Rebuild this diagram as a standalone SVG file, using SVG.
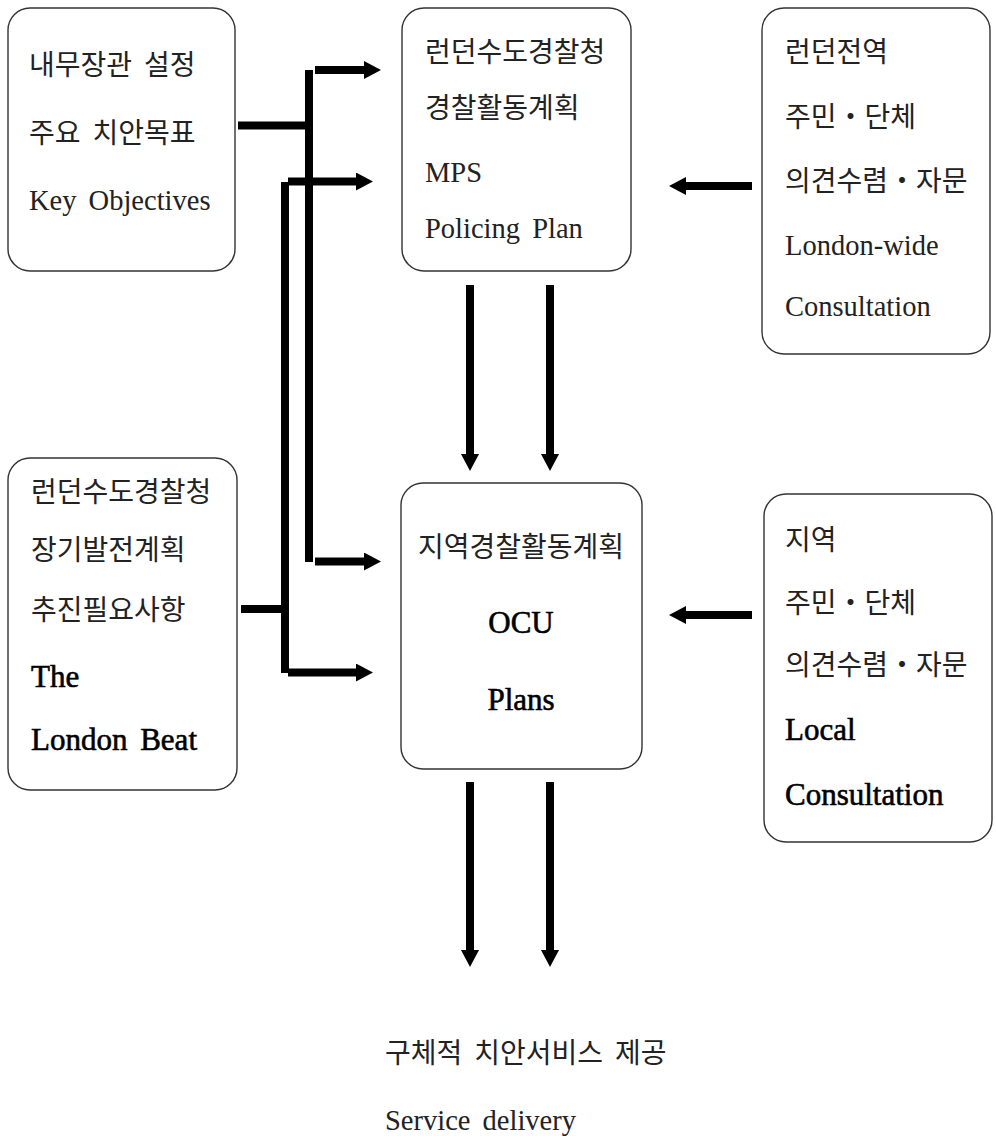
<svg xmlns="http://www.w3.org/2000/svg" width="996" height="1136" viewBox="0 0 996 1136">
<style>
.box{fill:#fff;stroke:#333;stroke-width:1.4}
.t{font-family:'Liberation Serif','Noto Sans CJK KR',serif;fill:#222;word-spacing:5px}
.k{font-size:28px}
.e{font-size:28.5px}
.b{font-size:31px;fill:#000;stroke:#000;stroke-width:0.6}
.c{text-anchor:middle}
.ln{fill:none;stroke:#000;stroke-width:8}
</style>
<defs>
<marker id="ah" markerUnits="userSpaceOnUse" markerWidth="18" markerHeight="18" viewBox="0 0 18 18" refX="0" refY="9" orient="auto">
<path d="M0,0 L17,9 L0,18 z" fill="#000"/>
</marker>
</defs>
<rect width="996" height="1136" fill="#fff"/>
<g id="connectors">
<path class="ln" d="M238,125.5 H311"/>
<path class="ln" d="M309,70 V562"/>
<path class="ln" d="M315,70 H364" marker-end="url(#ah)"/>
<path class="ln" d="M285,182 V673"/>
<path class="ln" d="M288,181.5 H356" marker-end="url(#ah)"/>
<path class="ln" d="M315,561.5 H364" marker-end="url(#ah)"/>
<path class="ln" d="M288,672.5 H356" marker-end="url(#ah)"/>
<path class="ln" d="M241,609 H283"/>
<path class="ln" d="M470,285 V454" marker-end="url(#ah)"/>
<path class="ln" d="M550,285 V454" marker-end="url(#ah)"/>
<path class="ln" d="M752,186 H686" marker-end="url(#ah)"/>
<path class="ln" d="M752,615 H686" marker-end="url(#ah)"/>
<path class="ln" d="M470,782 V950" marker-end="url(#ah)"/>
<path class="ln" d="M550,782 V950" marker-end="url(#ah)"/>
</g>
<g id="n1">
<rect class="box" x="8" y="8" width="227" height="263" rx="22"/>
<text class="t k" x="29" y="75">내무장관 설정</text>
<text class="t k" x="29" y="143">주요 치안목표</text>
<text class="t e" x="29" y="209.5">Key Objectives</text>
</g>
<g id="n2">
<rect class="box" x="402" y="8" width="229" height="263" rx="22"/>
<text class="t k" x="425" y="62">런던수도경찰청</text>
<text class="t k" x="425" y="118">경찰활동계획</text>
<text class="t e" x="425" y="181.5">MPS</text>
<text class="t e" x="425" y="237.5">Policing Plan</text>
</g>
<g id="n3">
<rect class="box" x="762" y="8" width="228" height="346" rx="22"/>
<text class="t k" x="785" y="62">런던전역</text>
<text class="t k" x="785" y="127">주민・단체</text>
<text class="t k" x="785" y="191">의견수렴・자문</text>
<text class="t e" x="785" y="254.5">London-wide</text>
<text class="t e" x="785" y="315.5">Consultation</text>
</g>
<g id="n4">
<rect class="box" x="8" y="458" width="229" height="332" rx="22"/>
<text class="t k" x="31" y="502">런던수도경찰청</text>
<text class="t k" x="31" y="560">장기발전계획</text>
<text class="t k" x="31" y="620">추진필요사항</text>
<text class="t b" x="31" y="687">The</text>
<text class="t b" x="31" y="750">London Beat</text>
</g>
<g id="n5">
<rect class="box" x="401" y="483" width="241" height="286" rx="22"/>
<text class="t k c" x="521" y="557">지역경찰활동계획</text>
<text class="t b c" x="521" y="633">OCU</text>
<text class="t b c" x="521" y="710">Plans</text>
</g>
<g id="n6">
<rect class="box" x="764" y="494" width="228" height="348" rx="22"/>
<text class="t k" x="785" y="550">지역</text>
<text class="t k" x="785" y="613">주민・단체</text>
<text class="t k" x="785" y="675">의견수렴・자문</text>
<text class="t b" x="785" y="740">Local</text>
<text class="t b" x="785" y="805">Consultation</text>
</g>
<g id="n7">
<text class="t k" x="385" y="1063">구체적 치안서비스 제공</text>
<text class="t e" x="385" y="1129.5">Service delivery</text>
</g>
</svg>
